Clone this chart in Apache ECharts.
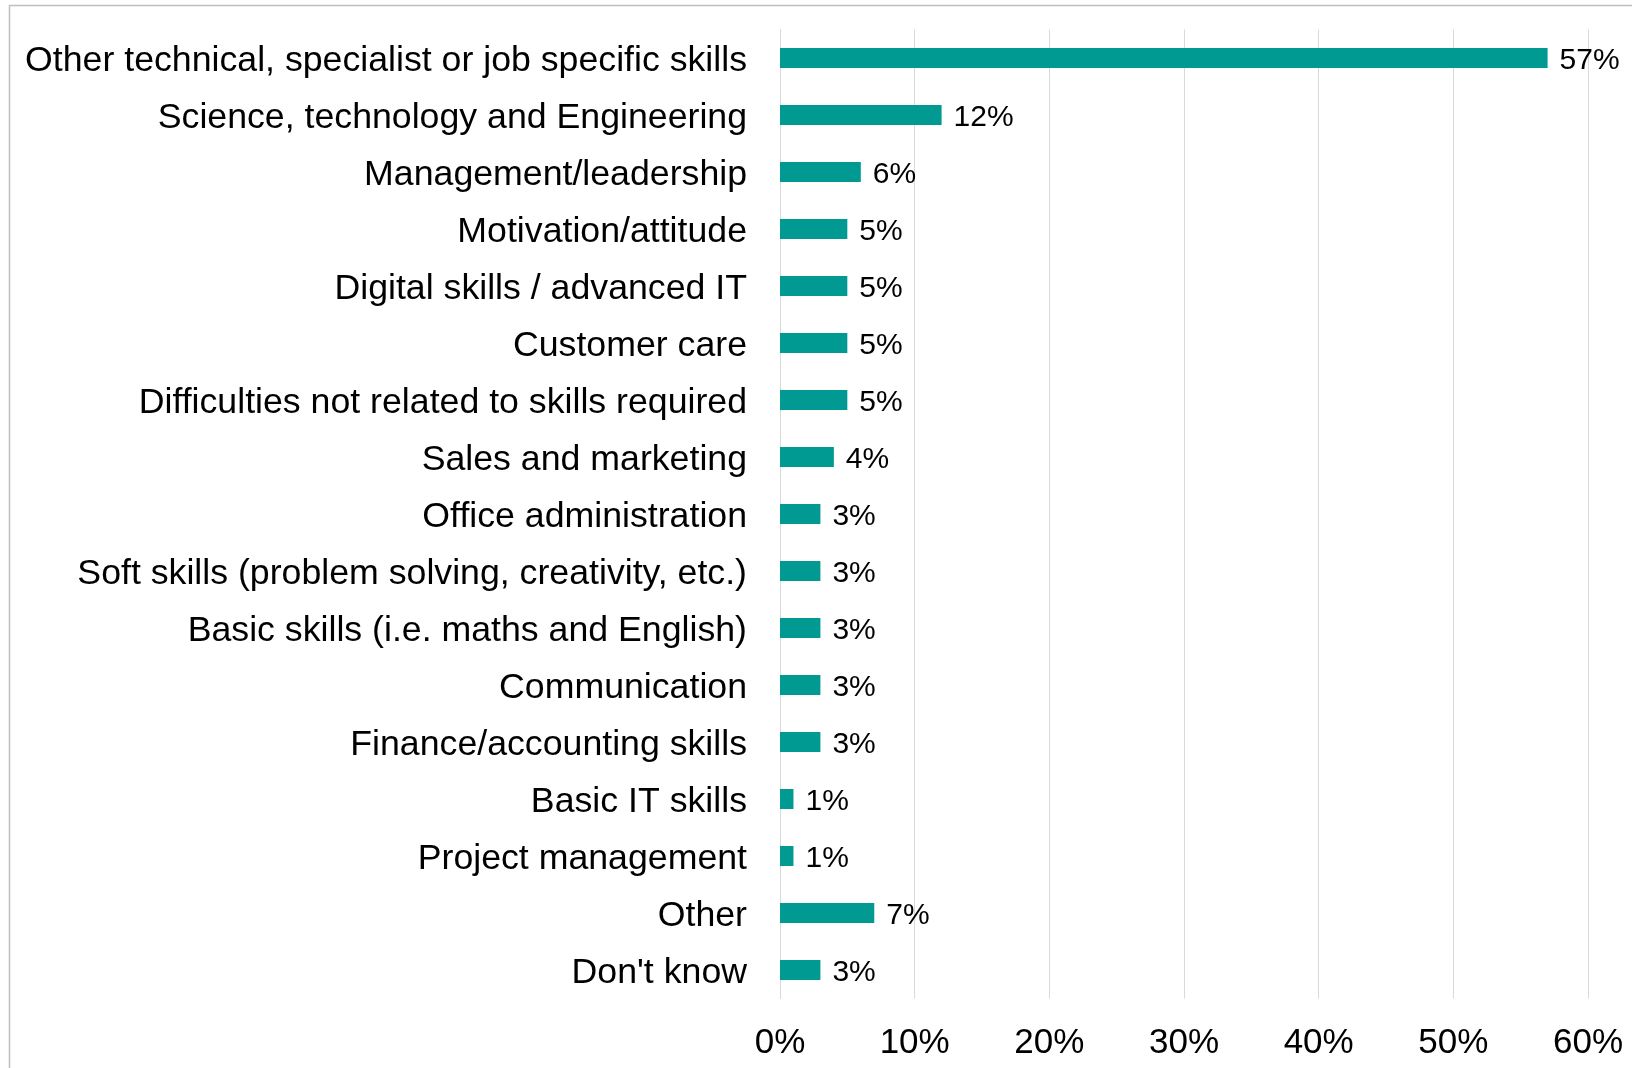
<!DOCTYPE html>
<html>
<head>
<meta charset="utf-8">
<script src="https://cdn.jsdelivr.net/npm/echarts@6/dist/echarts.min.js"></script>
<style>
html,body{margin:0;padding:0;background:#fff;}
#chart{width:1632px;height:1068px;}
</style>
</head>
<body>
<div id="chart"></div>
<script>
const categories = [
  "Other technical, specialist or job specific skills",
  "Science, technology and Engineering",
  "Management/leadership",
  "Motivation/attitude",
  "Digital skills / advanced IT",
  "Customer care",
  "Difficulties not related to skills required",
  "Sales and marketing",
  "Office administration",
  "Soft skills (problem solving, creativity, etc.)",
  "Basic skills (i.e. maths and English)",
  "Communication",
  "Finance/accounting skills",
  "Basic IT skills",
  "Project management",
  "Other",
  "Don't know"
];
const values = [57, 12, 6, 5, 5, 5, 5, 4, 3, 3, 3, 3, 3, 1, 1, 7, 3];

const chart = echarts.init(document.getElementById('chart'), null, {renderer: 'canvas'});
const font = '"Liberation Sans", Arial, sans-serif';
chart.setOption({
  animation: false,
  backgroundColor: '#ffffff',
  graphic: [{
    type: 'rect',
    shape: {x: 9.5, y: 5.5, width: 1700, height: 1200},
    style: {fill: 'none', stroke: '#bfbfbf', lineWidth: 1.5},
    silent: true
  }],
  grid: {left: 780, right: 44, top: 29.5, bottom: 69.5, containLabel: false},
  xAxis: {
    type: 'value',
    min: 0, max: 60, interval: 10,
    axisLine: {show: false},
    axisTick: {show: false},
    splitLine: {show: true, lineStyle: {color: '#d9d9d9', width: 1}},
    axisLabel: {
      formatter: '{value}%', fontSize: 35, color: '#000', fontFamily: font, margin: 27
    }
  },
  yAxis: {
    type: 'category',
    inverse: true,
    data: categories,
    axisLine: {show: true, lineStyle: {color: '#d9d9d9', width: 1}},
    axisTick: {show: false},
    axisLabel: {
      margin: 33,
      formatter: function (v) { return '{a|' + v + '}'; },
      rich: {a: {fontSize: 35.7, color: '#000', fontFamily: font, padding: [7, 0, 0, 0]}}
    }
  },
  series: [{
    type: 'bar',
    data: values,
    barWidth: 20,
    itemStyle: {color: '#009a92'},
    label: {
      show: true, position: 'right', distance: 12, offset: [0, 3],
      formatter: '{c}%', fontSize: 30, color: '#000', fontFamily: font
    }
  }]
});
</script>
</body>
</html>
